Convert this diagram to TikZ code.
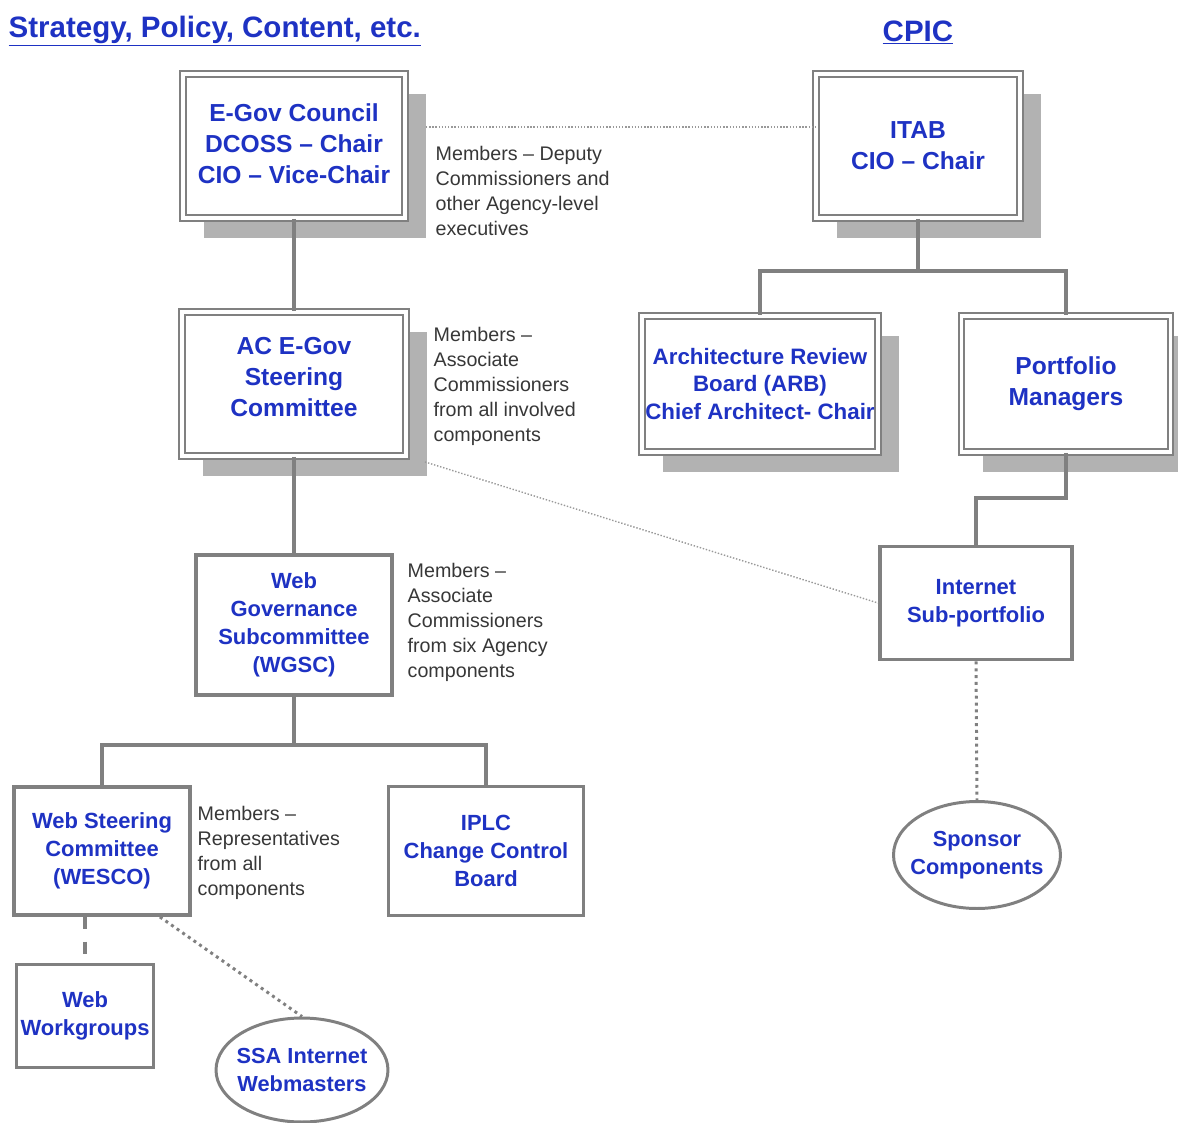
\documentclass[tikz,border=0pt]{standalone}
\usepackage{fontspec}
\setmainfont{Liberation Sans}
\usetikzlibrary{shadows,shapes.geometric}
\definecolor{orgblue}{RGB}{30,50,195}
\definecolor{linegray}{RGB}{128,128,128}
\definecolor{notegray}{RGB}{55,55,55}
\newcommand\liftby[1]{\vrule width 0pt height 0pt depth #1}

\begin{document}
\begin{tikzpicture}[x=0.02cm,y=-0.02cm,thick,
	big box/.style={rectangle,draw=linegray,line width=1.1pt,double=white,double distance=2pt,fill=white,
		drop shadow={shadow xshift=0.42cm,shadow yshift=-0.4cm,fill=black!30,opacity=1},
		align=center,text=orgblue,font=\fontsize{14}{17.6}\selectfont\bfseries},
	small box/.style={rectangle,draw=linegray,line width=2.2pt,fill=white,
		align=center,text=orgblue,font=\fontsize{12.5}{15.9}\selectfont\bfseries},
	oval/.style={ellipse,draw=linegray,line width=1.7pt,fill=white,inner xsep=-0.3cm,inner ysep=0pt,
		align=center,text=orgblue,font=\fontsize{12.4}{15.9}\selectfont\bfseries},
	note/.style={anchor=north west,inner sep=0pt,align=left,text=notegray,font=\fontsize{11.2}{14.2}\selectfont},
	title/.style={anchor=base west,inner sep=0pt,text=orgblue,font=\fontsize{16.8}{20}\selectfont\bfseries},
	link/.style={draw=linegray,line width=2.2pt},
	fine dots/.style={draw=gray!80,line width=0.8pt,densely dotted},
	dot line/.style={draw=linegray,line width=1.7pt,dash pattern=on 1.7pt off 2.2pt},
	dash link/.style={draw=linegray,line width=2.2pt,dash pattern=on 7pt off 7pt}]

	\useasboundingbox (0,0) rectangle (1178,1123);

	% headings
	\node[title] (strategy) at (8,37) {\underline{Strategy, Policy, Content, etc.}};
	\node[title] (cpic) at (882,41) {\underline{CPIC}};

	% left column
	\node[big box,minimum width=4.44cm,minimum height=2.88cm] (council) at (294,146) {E-Gov Council\\DCOSS – Chair\\CIO – Vice-Chair\liftby{0.1cm}};
	\node[big box,minimum width=4.48cm,minimum height=2.88cm] (acgov) at (294,384) {AC E-Gov\\Steering\\Committee\liftby{0.28cm}};
	\node[small box,minimum width=3.92cm,minimum height=2.8cm] (wgsc) at (294,625) {Web\\Governance\\Subcommittee\\(WGSC)\liftby{0.08cm}};
	\node[small box,minimum width=3.52cm,minimum height=2.56cm] (wesco) at (102,851) {Web Steering\\Committee\\(WESCO)};
	\node[small box,minimum width=3.9cm,minimum height=2.58cm] (iplc) at (486,851) {IPLC\\Change Control\\Board};
	\node[small box,minimum width=2.74cm,minimum height=2.06cm,inner xsep=2pt] (wwg) at (85,1016) {Web\\Workgroups\liftby{0.1cm}};
	\node[oval,minimum width=3.44cm,minimum height=2.08cm] (ssa) at (302,1070) {SSA Internet\\Webmasters};

	% right column
	\node[big box,minimum width=4.08cm,minimum height=2.88cm] (itab) at (918,146) {ITAB\\CIO – Chair};
	\node[big box,minimum width=4.72cm,minimum height=2.72cm,inner xsep=0pt,
		font=\fontsize{12.7}{15.6}\selectfont\bfseries] (arb) at (760,384) {Architecture Review\\Board (ARB)\\Chief Architect- Chair};
	\node[big box,minimum width=4.18cm,minimum height=2.72cm] (pm) at (1066,384) {Portfolio\\Managers};
	\node[small box,minimum width=3.84cm,minimum height=2.26cm] (inet) at (976,603) {Internet\\Sub-portfolio};
	\node[oval,minimum width=3.34cm,minimum height=2.14cm] (sponsor) at (977,855) {Sponsor\\Components\liftby{0.1cm}};

	% members
	\node[note] (notecouncil) at (435,146) {Members – Deputy\\Commissioners and\\other Agency-level\\executives};
	\node[note] (noteacgov) at (433,327) {Members –\\Associate\\Commissioners\\from all involved\\components};
	\node[note] (notewgsc) at (407,563) {Members –\\Associate\\Commissioners\\from six Agency\\components};
	\node[note] (notewesco) at (197,806) {Members –\\Representatives\\from all\\components};

	% connectors
	\draw[link] (council) -- (acgov);
	\draw[link] (acgov) -- (wgsc);
	\draw[link] (wgsc.south) -- ++(0,48) -| (wesco.north);
	\draw[link] (wgsc.south) -- ++(0,48) -| (iplc.north);
	\draw[link] (itab.south) -- ++(0,52) -| (arb.north);
	\draw[link] (itab.south) -- ++(0,52) -| (pm.north);
	\draw[link] (pm.south) -- ++(0,45) -| (inet.north);
	\draw[dash link] (wwg.north |- wesco.south) -- (wwg.north);
	\draw[dot line] ([xshift=-0.64cm]wesco.south east) -- (ssa.north);
	\draw[dot line] (inet.south) -- (sponsor.north);
	\draw[fine dots] ([xshift=0.4cm,yshift=0.38cm]council.east) -- ([yshift=0.38cm]itab.west);
	\draw[fine dots] ([xshift=0.36cm,yshift=-0.1cm]acgov.south east) -- (inet.west);

\end{tikzpicture}
\end{document}
